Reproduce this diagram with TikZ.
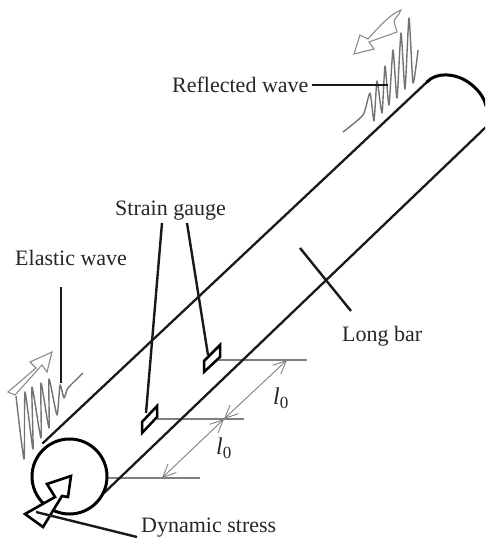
\documentclass[tikz,border=0pt]{standalone}
\usepackage{fontspec}
\setmainfont{Liberation Serif}
\usetikzlibrary{arrows.meta}
\tikzset{
 lab/.style={anchor=base west,inner sep=0pt,font=\fontsize{22}{24}\selectfont,text=black!85},
 barline/.style={draw=black!90,line width=2.3pt,line cap=round,line join=round},
 capline/.style={draw=black,line width=3pt,line cap=round},
 leader/.style={draw=black!90,line width=2.4pt},
 ext/.style={draw=black!50,line width=1.3pt},
 dim/.style={draw=black!50,line width=.9pt,{Straight Barb[length=13pt,width=12pt]}-{Straight Barb[length=13pt,width=12pt]}},
 wave/.style={draw=black!55,line width=1.4pt,line join=round,smooth,tension=.35},
 hollow/.style={draw=black!45,line width=1.1pt,fill=white,line join=miter},
 gaugebox/.style={draw=black,line width=2.5pt,fill=white,line join=miter}
}
\newcommand{\lzero}{\textit{l}\raisebox{-4pt}{\fontsize{17}{17}\selectfont 0}}
\begin{document}
\begin{tikzpicture}[x=1pt,y=-1pt]
\useasboundingbox (0,0) rectangle (485,538);
\clip (0,0) rectangle (485,538);
% coordinates
\coordinate (upA) at (43,443); \coordinate (upB) at (427,82);
\coordinate (loA) at (104,493); \coordinate (loB) at (487,126);
\coordinate (reflE) at (388,85);
\coordinate (elE) at (61,383);
\coordinate (gL) at (146,413); \coordinate (gR) at (208,355);
\coordinate (dsE) at (36,512);
\coordinate (lbA) at (300,248); \coordinate (lbB) at (351,311);
\coordinate (e1a) at (107,478); \coordinate (e1b) at (200,478);
\coordinate (e2a) at (157,419); \coordinate (e2b) at (244,419);
\coordinate (e3a) at (217,360); \coordinate (e3b) at (307,360);
\coordinate (d1) at (162,478); \coordinate (d2) at (224,419); \coordinate (d3) at (287,360);
% labels
\node[lab] (reflected) at (172,92) {Reflected wave};
\node[lab] (strain) at (115,215) {Strain gauge};
\node[lab] (elastic) at (15,265) {Elastic wave};
\node[lab] (longbar) at (342,341) {Long bar};
\node[lab] (dynamic) at (141,532.5) {Dynamic stress};
\node[lab,font=\fontsize{24}{24}\selectfont] (l1) at (273,404) {\lzero};
\node[lab,font=\fontsize{24}{24}\selectfont] (l2) at (216,454) {\lzero};
% waves
\draw[wave] plot coordinates {(16,396)(24,459)(25,392)(33,449)(32,387)(41,438)(41,383)(49,428)(49,379)(57,415)(60,385)(64,398)(68,388)(83,373)};
\draw[wave] plot coordinates {(343,132)(363,115)(370,93)(374,121)(377,81)(382,113)(385,66)(389,105)(393,50)(397,98)(401,33)(405,89)(409,18)(413,83)(418,50)};
% hollow grey arrows
\draw[hollow] (8,392)--(36,368)--(30,362)--(52,352)--(47,372)--(42,365)--(15,395)--cycle;
\draw[hollow] (354,54)--(360,35)--(368,39) .. controls (378,28) and (390,14) .. (401,10)
  .. controls (399,16) and (394,18) .. (394,22) -- (397,32)--(369,42)--(374,49)--cycle;
% extension lines
\draw[ext] (e1a)--(e1b);
\draw[ext] (e2a)--(e2b);
\draw[ext] (e3a)--(e3b);
\draw[dim] (d1)--(d2);
\draw[dim] (d2)--(d3);
% bar
\draw[barline] (upA)--(upB);
\draw[barline] (loA)--(loB);
\draw[capline] (upB) .. controls (436,72) and (455,73) .. (468,82) .. controls (478,89) and (484,97) .. (486,106);
\node[circle,draw=black,line width=3pt,fill=white,minimum size=75pt,inner sep=0pt] (endface) at (69.5,476.5) {};
% gauges
\draw[gaugebox] (142,422)--(157,406)--(157,417)--(142,433)--cycle;
\draw[gaugebox] (204,361)--(220,345)--(220,357)--(204,372)--cycle;
% big arrow
\draw[draw=black,line width=2.6pt,fill=white,line join=miter] (71,476)--(68,497)--(62,496)--(43,527)--(25,514)--(55,497)--(47,484)--cycle;
% leaders
\draw[leader] (reflected.base east)++(3,-7)--(reflE);
\draw[leader] (61,287)--(elE);
\draw[leader] (162,223)--(gL);
\draw[leader] (187,223)--(gR);
\draw[leader] (dsE)--(137,537);
\draw[leader] (lbA)--(lbB);
\end{tikzpicture}
\end{document}
